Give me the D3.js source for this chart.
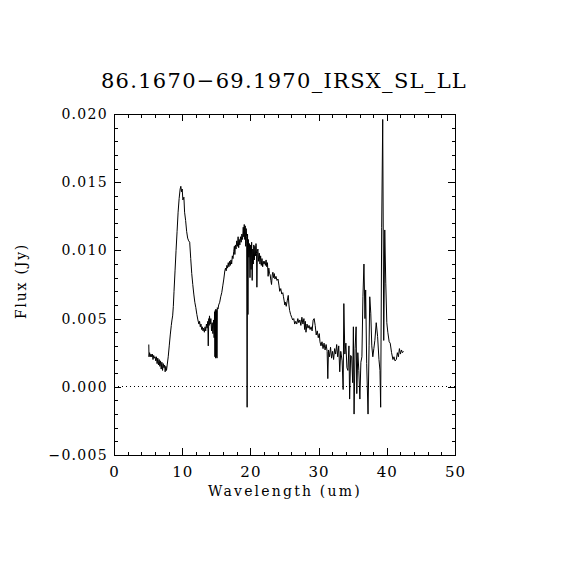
<!DOCTYPE html>
<html>
<head>
<meta charset="utf-8">
<script src="https://cdn.jsdelivr.net/npm/d3@7"></script>
<style>
  html, body { margin: 0; padding: 0; background: #fff; }
  svg { display: block; }
  text { font-family: "DejaVu Serif", "Liberation Serif", serif; fill: #000; }
</style>
</head>
<body>
<svg id="chart" width="570" height="570"></svg>
<script>
// ---- data ----
const title = "86.1670\u221269.1970_IRSX_SL_LL";
const xLabel = "Wavelength (um)";
const yLabel = "Flux (Jy)";
const xDomain = [0, 50];
const yDomain = [-0.005, 0.020];
const xMajorTicks = [0, 10, 20, 30, 40, 50];
const yMajorTicks = [-0.005, 0.000, 0.005, 0.010, 0.015, 0.020];
const yTickLabels = ["\u22120.005", "0.000", "0.005", "0.010", "0.015", "0.020"];

// [wavelength (um), flux (Jy)]
const segmentSL = [
  [5.10,0.0031],[5.13,0.0022],[5.22,0.0025],[5.32,0.0022],[5.42,0.0024],[5.52,0.0022],[5.62,0.0024],[5.72,0.0020],
  [5.82,0.0023],[5.92,0.0021],[6.02,0.0022],[6.12,0.0019],[6.22,0.0022],[6.32,0.0017],[6.42,0.0021],[6.52,0.0016],
  [6.62,0.0020],[6.72,0.0015],[6.82,0.0019],[6.92,0.0013],[7.02,0.0018],[7.12,0.0012],[7.22,0.0017],[7.32,0.0014],
  [7.42,0.0016],[7.50,0.0011],[7.60,0.0015],[7.70,0.0012],[7.80,0.0016],[7.95,0.0022],[8.10,0.0030],[8.25,0.0038],
  [8.40,0.0045],[8.50,0.0049],[8.60,0.0052],[8.70,0.0059],[8.80,0.0070],[8.95,0.0085],[9.10,0.0100],[9.25,0.0114],
  [9.40,0.0128],[9.55,0.0138],[9.70,0.0145],[9.80,0.0147],[9.90,0.0143],[10.00,0.0145],[10.10,0.0137],[10.25,0.0139],
  [10.35,0.0128],[10.50,0.0122],[10.65,0.0114],[10.80,0.0109],[10.95,0.0107],[11.10,0.0106],[11.25,0.0094],[11.40,0.0083],
  [11.55,0.0075],[11.70,0.0068],[11.85,0.0062],[12.00,0.0058],[12.15,0.0053],[12.30,0.0049],[12.45,0.0046],[12.55,0.0048],
  [12.65,0.0044],[12.75,0.0046],[12.85,0.0042],[12.95,0.0044],[13.05,0.0041],[13.15,0.0043],[13.25,0.0040],[13.35,0.0044],
  [13.45,0.0041],[13.55,0.0046],[13.65,0.0043],[13.75,0.0048],[13.82,0.0030],[13.90,0.0050],[13.95,0.0045]
];
const segmentLL2 = [
  [14.00,0.0052],[14.10,0.0046],[14.20,0.0050],[14.30,0.0041],[14.40,0.0047],[14.50,0.0039],[14.60,0.0049],[14.68,0.0036],
  [14.75,0.0055],[14.80,0.0022],[14.85,0.0056],[14.90,0.0021],[14.95,0.0057],[15.00,0.0022],[15.05,0.0056],[15.10,0.0021],
  [15.15,0.0058],[15.25,0.0057],[15.35,0.0060],[15.50,0.0062],[15.65,0.0066],[15.80,0.0069],[15.95,0.0074],[16.10,0.0079],
  [16.25,0.0085],[16.35,0.0087],[16.45,0.0085],[16.55,0.0089],[16.65,0.0087],[16.75,0.0091],[16.85,0.0088],[16.95,0.0092],
  [17.05,0.0089],[17.15,0.0093],[17.25,0.0090],[17.35,0.0096],[17.45,0.0094],[17.55,0.0099],[17.65,0.0103],[17.72,0.0097],
  [17.80,0.0104],[17.90,0.0101],[18.00,0.0107],[18.10,0.0103],[18.20,0.0110],[18.28,0.0102],[18.36,0.0108],[18.45,0.0104],
  [18.55,0.0110],[18.65,0.0106],[18.75,0.0112],[18.85,0.0108],[18.95,0.0117],[19.02,0.0110],[19.10,0.0119],[19.17,0.0108],
  [19.24,0.0118],[19.31,0.0103],[19.38,0.0116],[19.45,0.0110],[19.52,-0.0015],[19.58,0.0112],[19.64,0.0053],[19.70,0.0108],
  [19.78,0.0095],[19.86,0.0105],[19.94,0.0080],[20.02,0.0104],[20.10,0.0086],[20.18,0.0106],[20.26,0.0078],[20.34,0.0101],
  [20.42,0.0090],[20.50,0.0104],[20.58,0.0093],[20.66,0.0103],[20.74,0.0096],[20.82,0.0105],[20.90,0.0098],[20.95,0.0073],
  [21.02,0.0099]
];
const segmentLL1 = [
  [21.10,0.0101],[21.20,0.0092],[21.30,0.0098],[21.40,0.0090],[21.50,0.0096],[21.60,0.0089],[21.70,0.0094],[21.80,0.0088],
  [21.90,0.0092],[22.00,0.0090],[22.10,0.0092],[22.20,0.0089],[22.30,0.0093],[22.40,0.0088],[22.50,0.0091],[22.60,0.0081],
  [22.70,0.0087],[22.80,0.0083],[22.90,0.0082],[23.00,0.0078],[23.10,0.0075],[23.20,0.0082],[23.30,0.0084],[23.40,0.0080],
  [23.50,0.0083],[23.60,0.0079],[23.75,0.0081],[23.90,0.0078],[24.05,0.0079],[24.20,0.0074],[24.30,0.0070],[24.45,0.0072],
  [24.60,0.0068],[24.75,0.0069],[24.85,0.0066],[24.95,0.0063],[25.05,0.0060],[25.15,0.0062],[25.25,0.0059],[25.40,0.0063],
  [25.55,0.0067],[25.65,0.0060],[25.75,0.0056],[25.90,0.0053],[26.05,0.0051],[26.20,0.0049],[26.35,0.0050],[26.50,0.0046],
  [26.65,0.0048],[26.80,0.0046],[26.95,0.0050],[27.10,0.0047],[27.25,0.0049],[27.40,0.0045],[27.55,0.0051],[27.70,0.0046],
  [27.85,0.0050],[27.95,0.0042],[28.05,0.0048],[28.15,0.0040],[28.30,0.0046],[28.45,0.0043],[28.60,0.0045],[28.75,0.0042],
  [28.90,0.0044],[29.05,0.0041],[29.20,0.0049],[29.35,0.0050],[29.50,0.0045],[29.65,0.0038],[29.80,0.0041],[29.95,0.0036],
  [30.10,0.0039],[30.20,0.0033],[30.35,0.0030],[30.50,0.0033],[30.65,0.0028],[30.80,0.0032],[30.95,0.0027],[31.10,0.0031],
  [31.25,0.0026],[31.35,0.0006],[31.45,0.0027],[31.60,0.0022],[31.75,0.0029],[31.90,0.0021],[32.05,0.0026],[32.20,0.0020],
  [32.35,0.0028],[32.50,0.0024],[32.65,0.0031],[32.80,0.0022],[32.95,0.0030],[33.10,0.0011],[33.25,0.0026],[33.45,0.0019],
  [33.60,-0.0002],[33.70,0.0061],[33.85,0.0024],[34.00,0.0032],[34.15,0.0014],[34.30,0.0012],[34.45,0.0030],[34.55,-0.0009],
  [34.70,0.0023],[34.85,0.0022],[35.00,0.0003],[35.10,0.0044],[35.20,-0.0020],[35.35,0.0028],[35.50,0.0044],[35.60,-0.0005],
  [35.75,0.0025],[35.90,0.0012],[36.05,-0.0009],[36.20,0.0018],[36.35,0.0022],[36.50,0.0066],[36.65,0.0090],[36.80,0.0050],
  [36.90,0.0071],[37.05,0.0017],[37.25,-0.0020],[37.40,0.0030],[37.50,0.0066],[37.65,0.0054],[37.80,0.0030],[37.95,0.0022],
  [38.10,0.0028],[38.25,0.0034],[38.45,0.0047],[38.65,0.0037],[38.85,0.0020],[39.00,0.0012],[39.10,-0.0015],[39.25,0.0117],
  [39.40,0.0196],[39.55,0.0034],[39.70,0.0115],[39.85,0.0076],[40.00,0.0047],[40.15,0.0040],[40.35,0.0033],[40.50,0.0032],
  [40.70,0.0025],[40.90,0.0020],[41.05,0.0022],[41.20,0.0019],[41.40,0.0020],[41.55,0.0025],[41.70,0.0022],[41.85,0.0028],
  [42.00,0.0024],[42.15,0.0027],[42.30,0.0025],[42.45,0.0026]
];

// ---- layout ----
const plot = { left: 114, right: 455, top: 114, bottom: 455 };
const majorLen = 7, minorLen = 3.5;

const svg = d3.select("#chart");
svg.append("rect").attr("width", 570).attr("height", 570).attr("fill", "#fff");

const x = d3.scaleLinear().domain(xDomain).range([plot.left, plot.right]);
const y = d3.scaleLinear().domain(yDomain).range([plot.bottom, plot.top]);

const xMinorTicks = d3.range(0, 50.001, 2).filter(v => !xMajorTicks.includes(v));
const yMinorTicks = d3.range(-5, 20.001, 1).map(v => v / 1000).filter(v => Math.abs(Math.round(v * 1000)) % 5 !== 0);

function styleAxis(g) {
  g.select(".domain").remove();
  g.selectAll("line").attr("stroke", "#000").attr("stroke-width", 1).attr("shape-rendering", "crispEdges");
  g.selectAll("text").attr("font-family", "DejaVu Serif").attr("font-size", 14).attr("fill", "#000");
}

// bottom
svg.append("g").attr("transform", `translate(0,${plot.bottom})`)
  .call(d3.axisBottom(x).tickValues(xMajorTicks).tickSize(-majorLen).tickPadding(11).tickFormat(d3.format("d")))
  .call(styleAxis)
  .call(g => g.selectAll("text").attr("font-size", 15).attr("letter-spacing", 1));
svg.append("g").attr("transform", `translate(0,${plot.bottom})`)
  .call(d3.axisBottom(x).tickValues(xMinorTicks).tickSize(-minorLen).tickFormat(""))
  .call(styleAxis);
// top
svg.append("g").attr("transform", `translate(0,${plot.top})`)
  .call(d3.axisTop(x).tickValues(xMajorTicks).tickSize(-majorLen).tickFormat(""))
  .call(styleAxis);
svg.append("g").attr("transform", `translate(0,${plot.top})`)
  .call(d3.axisTop(x).tickValues(xMinorTicks).tickSize(-minorLen).tickFormat(""))
  .call(styleAxis);
// left
svg.append("g").attr("transform", `translate(${plot.left},0)`)
  .call(d3.axisLeft(y).tickValues(yMajorTicks).tickSize(-majorLen).tickPadding(6)
    .tickFormat((d, i) => yTickLabels[i]))
  .call(styleAxis)
  .call(g => g.selectAll("text").attr("letter-spacing", 1.3));
svg.append("g").attr("transform", `translate(${plot.left},0)`)
  .call(d3.axisLeft(y).tickValues(yMinorTicks).tickSize(-minorLen).tickFormat(""))
  .call(styleAxis);
// right
svg.append("g").attr("transform", `translate(${plot.right},0)`)
  .call(d3.axisRight(y).tickValues(yMajorTicks).tickSize(-majorLen).tickFormat(""))
  .call(styleAxis);
svg.append("g").attr("transform", `translate(${plot.right},0)`)
  .call(d3.axisRight(y).tickValues(yMinorTicks).tickSize(-minorLen).tickFormat(""))
  .call(styleAxis);

// frame
svg.append("rect")
  .attr("x", plot.left).attr("y", plot.top)
  .attr("width", plot.right - plot.left).attr("height", plot.bottom - plot.top)
  .attr("fill", "none").attr("stroke", "#000").attr("stroke-width", 1)
  .attr("shape-rendering", "crispEdges");

// zero line (dotted)
svg.append("line")
  .attr("x1", x(xDomain[0])).attr("x2", x(xDomain[1]))
  .attr("y1", y(0)).attr("y2", y(0))
  .attr("stroke", "#000").attr("stroke-width", 1)
  .attr("stroke-dasharray", "1,3").attr("shape-rendering", "crispEdges");

// spectrum
const spectrum = segmentSL.concat(segmentLL2, segmentLL1);
const line = d3.line().x(d => x(d[0])).y(d => y(d[1]));
svg.append("path")
  .datum(spectrum)
  .attr("d", line)
  .attr("fill", "none")
  .attr("stroke", "#000")
  .attr("stroke-width", 1);

// title & labels
svg.append("text")
  .attr("x", 284).attr("y", 88)
  .attr("text-anchor", "middle")
  .attr("font-size", 21)
  .attr("letter-spacing", 1.3)
  .text(title);

svg.append("text")
  .attr("x", 285).attr("y", 496)
  .attr("text-anchor", "middle")
  .attr("font-size", 14)
  .attr("letter-spacing", 2.2)
  .text(xLabel);

svg.append("text")
  .attr("transform", "translate(26,281) rotate(-90)")
  .attr("text-anchor", "middle")
  .attr("font-size", 14)
  .attr("letter-spacing", 1.8)
  .text(yLabel);
</script>
</body>
</html>
